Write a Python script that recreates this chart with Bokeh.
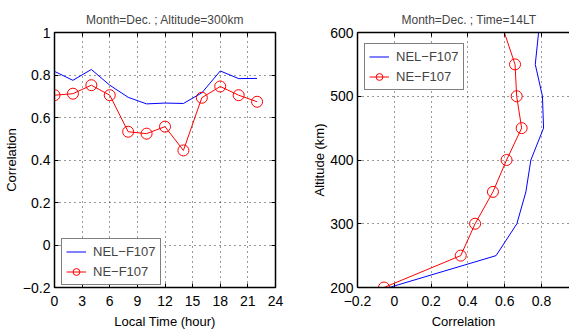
from bokeh.plotting import figure
from bokeh.models import Range1d, LinearAxis, FixedTicker, Legend, LegendItem
from bokeh.layouts import row
from bokeh.embed import file_html
from bokeh.resources import INLINE

# ---- data: left panel (Altitude = 300 km) ----
local_time = [0, 2, 4, 6, 8, 10, 12, 14, 16, 18, 20, 22]
nel_f107_lt = [0.817, 0.775, 0.826, 0.752, 0.695, 0.664, 0.668, 0.666, 0.716, 0.819, 0.783, 0.784]
ne_f107_lt = [0.705, 0.712, 0.752, 0.705, 0.533, 0.524, 0.557, 0.445, 0.693, 0.746, 0.705, 0.674]

# ---- data: right panel (Time = 14 LT) ----
altitude = [200, 250, 300, 350, 400, 450, 500, 550, 600]
nel_f107_alt = [-0.028, 0.553, 0.666, 0.715, 0.742, 0.811, 0.805, 0.766, 0.784]
ne_f107_alt = [-0.056, 0.361, 0.439, 0.536, 0.610, 0.692, 0.665, 0.656, 0.598]

left_xticks = [0, 3, 6, 9, 12, 15, 18, 21, 24]
left_yticks = [-0.2, 0, 0.2, 0.4, 0.6, 0.8, 1]
right_xticks = [-0.2, 0, 0.2, 0.4, 0.6, 0.8, 1.0]
right_yticks = [200, 300, 400, 500, 600]

FONT = "Liberation Sans"
BLUE = "#0000ff"
RED = "#ff0000"


def style_axis(ax, ticks, labels=True, size="14px"):
    ax.ticker = FixedTicker(ticks=ticks)
    ax.major_tick_in = 4
    ax.major_tick_out = 0
    ax.minor_tick_in = 0
    ax.minor_tick_out = 0
    ax.axis_line_color = "black"
    ax.major_tick_line_color = "black"
    ax.axis_line_width = 1
    ax.major_label_text_font = FONT
    ax.major_label_text_font_size = size
    ax.major_label_text_color = "black"
    ax.axis_label_text_font = FONT
    ax.axis_label_text_font_size = "13px"
    ax.axis_label_text_font_style = "normal"
    ax.axis_label_text_color = "black"
    if not labels:
        ax.major_label_text_font_size = "0px"
        ax.major_label_text_color = None
        ax.major_label_standoff = 0


def style_grid(p):
    for g in (p.xgrid[0], p.ygrid[0]):
        g.grid_line_color = "black"
        g.grid_line_dash = "1 4"
        g.grid_line_width = 1
        g.grid_line_alpha = 0.8


def style_legend(leg):
    leg.label_text_font = FONT
    leg.label_text_font_size = "13px"
    leg.border_line_color = "black"
    leg.border_line_width = 1.5
    leg.glyph_width = 20
    leg.label_height = 17
    leg.glyph_height = 17
    leg.spacing = 3
    leg.padding = 4
    leg.margin = 0
    leg.label_standoff = 7


# ================= left panel =================
p1 = figure(width=289, height=331, output_backend="svg", toolbar_location=None,
            x_range=Range1d(0, 24), y_range=Range1d(-0.2, 1.0),
            min_border_left=53, min_border_right=14, min_border_top=32, min_border_bottom=44)
p1.title.text = "Month=Dec. ; Altitude=300km"
p1.title.align = "center"
p1.title.text_font = FONT
p1.title.text_font_size = "12px"
p1.title.text_font_style = "normal"
p1.title.standoff = 11
p1.outline_line_color = "black"
p1.outline_line_width = 1.5
p1.background_fill_color = "white"
p1.border_fill_color = "white"

style_axis(p1.xaxis[0], left_xticks)
style_axis(p1.yaxis[0], left_yticks)
p1.xaxis[0].axis_label = "Local Time (hour)"
p1.yaxis[0].axis_label = "Correlation"
p1.xaxis[0].major_label_standoff = 8
p1.yaxis[0].major_label_standoff = 4
p1.xaxis[0].axis_label_standoff = 5
p1.yaxis[0].axis_label_standoff = 1
top1 = LinearAxis()
style_axis(top1, left_xticks, labels=False)
p1.add_layout(top1, "above")
right1 = LinearAxis()
style_axis(right1, left_yticks, labels=False)
p1.add_layout(right1, "right")
style_grid(p1)

l1 = p1.line(local_time, nel_f107_lt, line_color=BLUE, line_width=1)
l2 = p1.line(local_time, ne_f107_lt, line_color=RED, line_width=1)
m2 = p1.scatter(local_time, ne_f107_lt, marker="circle", size=11, fill_color=None,
                line_color=RED, line_width=1)

leg1 = Legend(items=[LegendItem(label="NEL\u2212F107", renderers=[l1]),
                     LegendItem(label="NE\u2212F107", renderers=[l2, m2])],
              location=(7, 2))
style_legend(leg1)
p1.add_layout(leg1, "center")

# ================= right panel =================
p2 = figure(width=280, height=331, output_backend="svg", toolbar_location=None,
            x_range=Range1d(-0.2, 0.952), y_range=Range1d(200, 600),
            min_border_left=68, min_border_right=0, min_border_top=32, min_border_bottom=44)
p2.title.text = "Month=Dec. ; Time=14LT"
p2.title.align = "left"
p2.title.offset = 44
p2.title.text_font = FONT
p2.title.text_font_size = "12px"
p2.title.text_font_style = "normal"
p2.title.standoff = 11
p2.outline_line_color = None
p2.background_fill_color = "white"
p2.border_fill_color = "white"

style_axis(p2.xaxis[0], right_xticks)
style_axis(p2.yaxis[0], right_yticks)
p2.xaxis[0].axis_label = "Correlation"
p2.yaxis[0].axis_label = "Altitude (km)"
p2.xaxis[0].major_label_standoff = 8
p2.yaxis[0].major_label_standoff = 4
p2.xaxis[0].axis_label_standoff = 5
p2.yaxis[0].axis_label_standoff = 0
p2.xaxis[0].axis_line_width = 1.5
p2.yaxis[0].axis_line_width = 1.5
top2 = LinearAxis()
style_axis(top2, right_xticks, labels=False)
top2.axis_line_width = 1.5
p2.add_layout(top2, "above")
style_grid(p2)

r1 = p2.line(nel_f107_alt, altitude, line_color=BLUE, line_width=1)
r2 = p2.line(ne_f107_alt, altitude, line_color=RED, line_width=1)
rm2 = p2.scatter(ne_f107_alt[:-1], altitude[:-1], marker="circle", size=11, fill_color=None,
                 line_color=RED, line_width=1)

leg2 = Legend(items=[LegendItem(label="NEL\u2212F107", renderers=[r1]),
                     LegendItem(label="NE\u2212F107", renderers=[r2, rm2])],
              location=(7, 197))
style_legend(leg2)
p2.add_layout(leg2, "center")

layout = row(p1, p2)
open("out.html", "w").write(file_html(layout, INLINE))
